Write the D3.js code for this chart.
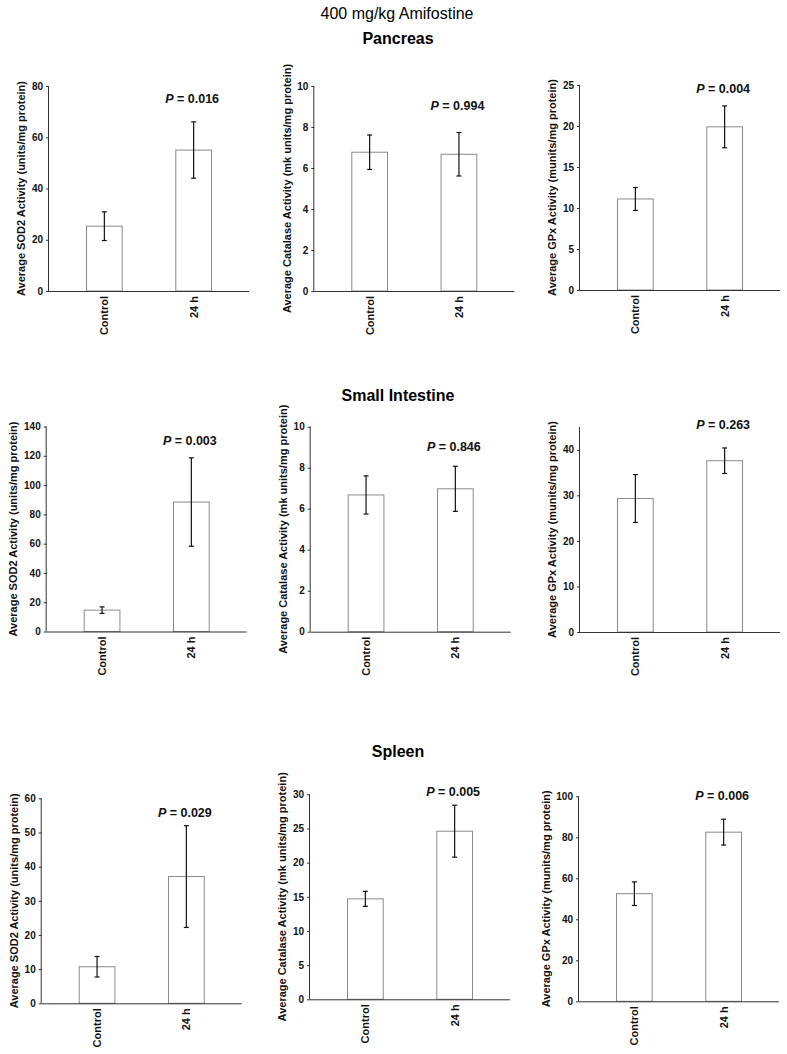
<!DOCTYPE html>
<html><head><meta charset="utf-8">
<script src="https://cdn.jsdelivr.net/npm/d3@7/dist/d3.min.js"></script>
<style>
body{margin:0;background:#fff;}
svg{display:block;font-family:"Liberation Sans",Arial,sans-serif;}
</style></head>
<body>
<svg id="chart" width="787" height="1054"></svg>
<script>
// ---- data ----
const mainTitle = "400 mg/kg Amifostine";
const tissues = ["Pancreas", "Small Intestine", "Spleen"];
const categories = ["Control", "24 h"];
const yLabels = [
  "Average SOD2 Activity (units/mg protein)",
  "Average Catalase Activity (mk units/mg protein)",
  "Average GPx Activity (munits/mg protein)"
];
// rows = tissues, columns = enzymes (SOD2, Catalase, GPx)
const yMax = [[80, 10, 25], [140, 10, 45], [60, 30, 100]];
const yTickStep = [[20, 2, 5], [20, 2, 10], [10, 5, 20]];
const meanControl = [[25.3, 6.77, 11.1], [14.6, 6.67, 29.3], [10.7, 14.7, 52.5]];
const errControl  = [[5.6, 0.84, 1.4], [2.2, 0.93, 5.25], [3.0, 1.1, 5.75]];
const mean24h     = [[55.0, 6.67, 19.9], [88.4, 6.97, 37.6], [37.1, 24.6, 82.5]];
const err24h      = [[11.0, 1.06, 2.55], [30.2, 1.1, 2.8], [14.9, 3.8, 6.3]];
const pValues = [["0.016", "0.994", "0.004"], ["0.003", "0.846", "0.263"], ["0.029", "0.005", "0.006"]];

// ---- layout ----
const axisX = [[49, 314.3, 580], [46.7, 310.7, 580], [41.7, 310, 579]];
const plotBottom = [[291, 291, 290], [631.5, 631.7, 632], [1003.3, 999.3, 1001.3]];
const plotH = 205, plotW = 200;
const pOffset = [[13, 20, 4], [14, 20, -2.5], [14, -2.3, -0.7]];
const rowTitleY = [38, 395, 751.7];

const svg = d3.select("#chart");
svg.append("text").attr("x", 397).attr("y", 13).attr("dy", "0.35em")
  .attr("text-anchor", "middle").attr("font-size", 16).text(mainTitle);

tissues.forEach((t, r) => {
  svg.append("text").attr("x", 398).attr("y", rowTitleY[r]).attr("dy", "0.35em")
    .attr("text-anchor", "middle").attr("font-size", 16).attr("font-weight", "bold").text(t);
  for (let c = 0; c < 3; c++) {
    const x0 = axisX[r][c], y0 = plotBottom[r][c];
    const g = svg.append("g");
    const y = d3.scaleLinear().domain([0, yMax[r][c]]).range([y0, y0 - plotH]);
    const x = d3.scaleBand().domain(categories).range([x0, x0 + plotW])
      .paddingInner(0.6).paddingOuter(0.42);
    const vals = [
      {cat: categories[0], m: meanControl[r][c], e: errControl[r][c]},
      {cat: categories[1], m: mean24h[r][c], e: err24h[r][c]}
    ];
    // bars
    g.selectAll("rect.bar").data(vals).join("rect")
      .attr("x", d => x(d.cat)).attr("width", x.bandwidth())
      .attr("y", d => y(d.m)).attr("height", d => y(0) - y(d.m))
      .attr("fill", "#fff").attr("stroke", "#8a8a8a").attr("stroke-width", 1);
    // error bars
    const cx = d => x(d.cat) + x.bandwidth() / 2;
    g.selectAll("line.err").data(vals).join("line")
      .attr("x1", cx).attr("x2", cx)
      .attr("y1", d => y(d.m + d.e)).attr("y2", d => y(d.m - d.e))
      .attr("stroke", "#111").attr("stroke-width", 1.2);
    ["top", "bot"].forEach(k => {
      g.selectAll("line.cap" + k).data(vals).join("line")
        .attr("x1", d => cx(d) - 2.5).attr("x2", d => cx(d) + 2.5)
        .attr("y1", d => y(k === "top" ? d.m + d.e : d.m - d.e))
        .attr("y2", d => y(k === "top" ? d.m + d.e : d.m - d.e))
        .attr("stroke", "#111").attr("stroke-width", 1.2);
    });
    // y axis
    const ticks = d3.range(0, yMax[r][c] + 1e-9, yTickStep[r][c]);
    const ya = g.append("g").attr("transform", `translate(${x0},0)`)
      .call(d3.axisLeft(y).tickValues(ticks).tickSize(3).tickPadding(3).tickFormat(d3.format("d")));
    ya.select(".domain").attr("stroke", "#333").attr("d", `M-0.5,${y0}V${y0 - plotH}`);
    ya.selectAll(".tick line").attr("stroke", "#333");
    ya.selectAll(".tick text").attr("font-size", 10).attr("font-weight", "bold")
      .attr("fill", "#111").attr("font-family", "Liberation Sans, Arial, sans-serif");
    // x axis line
    g.append("line").attr("x1", x0).attr("x2", x0 + plotW).attr("y1", y0 + 0.5).attr("y2", y0 + 0.5)
      .attr("stroke", "#333");
    // category labels
    g.selectAll("text.cat").data(categories).join("text")
      .attr("transform", d => `translate(${x(d) + x.bandwidth() / 2},${y0 + 5}) rotate(-90)`)
      .attr("text-anchor", "end").attr("dy", "0.35em")
      .attr("font-size", 11).attr("font-weight", "bold").attr("fill", "#111").text(d => d);
    // y label, placed left of the widest tick label
    let maxW = 0;
    ya.selectAll(".tick text").each(function () { maxW = Math.max(maxW, this.getBBox().width); });
    const labX = x0 - 6 - maxW - 10;
    g.append("text")
      .attr("transform", `translate(${labX},${y0 - plotH / 2}) rotate(-90)`)
      .attr("text-anchor", "middle").attr("dy", "0.35em")
      .attr("font-size", 11).attr("font-weight", "bold").attr("fill", "#111").text(yLabels[c]);
    // P label
    const pt = g.append("text")
      .attr("x", x(categories[1]) + x.bandwidth() / 2 - 1.5)
      .attr("y", y0 - plotH + pOffset[r][c]).attr("dy", "0.35em")
      .attr("text-anchor", "middle").attr("font-size", 12.5).attr("font-weight", "bold").attr("fill", "#111");
    pt.append("tspan").attr("font-style", "italic").text("P");
    pt.append("tspan").text(" = " + pValues[r][c]);
  }
});
</script>
</body></html>
